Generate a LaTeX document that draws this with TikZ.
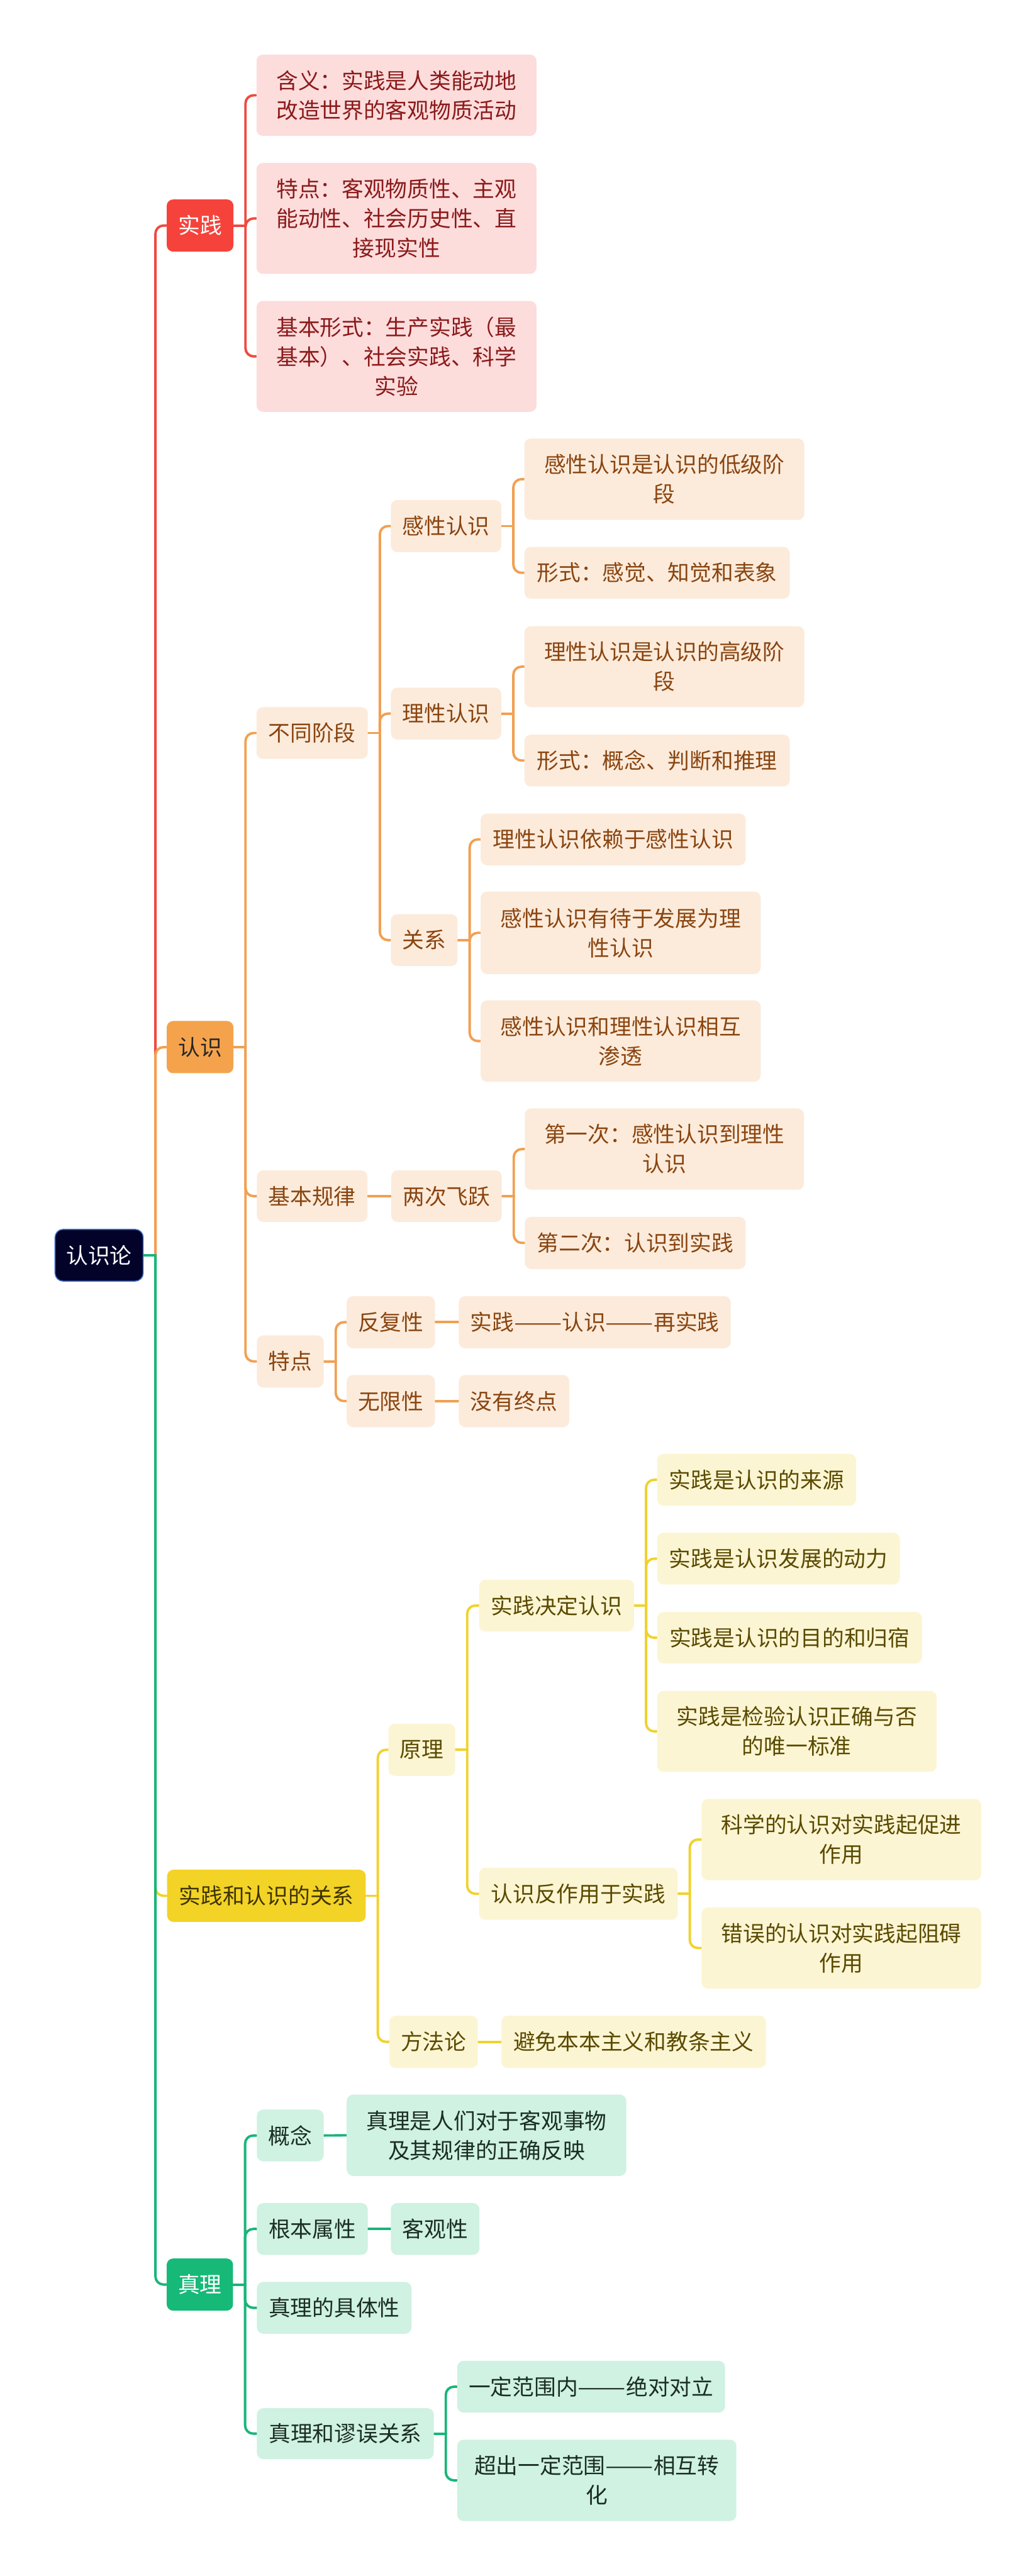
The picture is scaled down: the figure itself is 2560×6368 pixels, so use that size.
\documentclass[tikz,border=0pt]{standalone}
\usepackage{fontspec}
\setmainfont{Noto Sans CJK SC}
\usetikzlibrary{backgrounds}
\definecolor{rootF}{HTML}{03032A}
\definecolor{rootB}{HTML}{3D6FCF}
\definecolor{redM}{HTML}{F5433B}
\definecolor{redL}{HTML}{EE4A40}
\definecolor{redS}{HTML}{FDDCDC}
\definecolor{redT}{HTML}{8B1A1A}
\definecolor{orM}{HTML}{F4A34C}
\definecolor{orL}{HTML}{F2A052}
\definecolor{orS}{HTML}{FCEBDB}
\definecolor{orT}{HTML}{8A4510}
\definecolor{yeM}{HTML}{F2D326}
\definecolor{yeL}{HTML}{F0D22E}
\definecolor{yeS}{HTML}{FCF5D3}
\definecolor{yeT}{HTML}{5A4A00}
\definecolor{grM}{HTML}{16B978}
\definecolor{grL}{HTML}{19B57A}
\definecolor{grS}{HTML}{CFF2E2}
\definecolor{grT}{HTML}{1B2E22}
\newcommand\bx[7]{\node[#6, minimum width={(#4-#2)*0.25pt}, minimum height={(#5-#3)*0.25pt}] (#1) at ({(#2+#4)/2},{(#3+#5)/2}) {#7};}
\newcommand\cn[3]{%
  \draw[conn,#1] (#2.east) -- ++(29,0);
  \draw[conn,#1,rounded corners=5pt] ([xshift=7.25pt]#2.east) |- (#3.west);}
\newcommand\st[3]{\draw[conn,#1] (#2.east) -- (#3.west);}
\newcommand\dd{\resizebox{2.2em}{\height}{——}}
\begin{document}
\begin{tikzpicture}[x=0.25pt,y=-0.25pt,
  box/.style={rounded corners=4pt, inner sep=0pt, align=center, font=\fontsize{13.5pt}{18.25pt}\selectfont},
  rootbox/.style={box, fill=rootF, draw=rootB, line width=0.6pt, text=white, rounded corners=5pt},
  redmain/.style={box, fill=redM, text=white},
  redsub/.style={box, fill=redS, text=redT},
  ormain/.style={box, fill=orM, text=black!85},
  orsub/.style={box, fill=orS, text=orT},
  yemain/.style={box, fill=yeM, text=yeT!70!black},
  yesub/.style={box, fill=yeS, text=yeT},
  grmain/.style={box, fill=grM, text=white},
  grsub/.style={box, fill=grS, text=grT},
  conn/.style={line width=1.5pt, line cap=round},
  rc/.style={draw=redL}, oc/.style={draw=orL}, yc/.style={draw=yeL}, gc/.style={draw=grL}
]
\useasboundingbox (0,0) rectangle (2560,6368);
\begin{pgfonlayer}{background}
\fill[white] (0,0) rectangle (2560,6368);
\end{pgfonlayer}

\bx{root}{136}{3039}{354}{3167}{rootbox}{认识论}

% 实践
\bx{sj}{412}{493}{577}{622}{redmain}{实践}
\bx{sja}{634}{135}{1326}{336}{redsub}{含义：实践是人类能动地\\改造世界的客观物质活动}
\bx{sjb}{634}{403}{1326}{677}{redsub}{特点：客观物质性、主观\\能动性、社会历史性、直\\接现实性}
\bx{sjc}{634}{744}{1326}{1018}{redsub}{基本形式：生产实践（最\\基本）、社会实践、科学\\实验}

% 认识
\bx{rs}{412}{2524}{577}{2653}{ormain}{认识}
\bx{bt}{634}{1748}{909}{1876}{orsub}{不同阶段}
\bx{gx}{966}{1236}{1239}{1365}{orsub}{感性认识}
\bx{gxa}{1296}{1084}{1988}{1285}{orsub}{感性认识是认识的低级阶\\段}
\bx{gxb}{1296}{1352}{1952}{1480}{orsub}{形式：感觉、知觉和表象}
\bx{lx}{966}{1700}{1239}{1828}{orsub}{理性认识}
\bx{lxa}{1296}{1548}{1988}{1748}{orsub}{理性认识是认识的高级阶\\段}
\bx{lxb}{1296}{1816}{1952}{1944}{orsub}{形式：概念、判断和推理}
\bx{gxi}{966}{2260}{1131}{2388}{orsub}{关系}
\bx{gxia}{1188}{2011}{1843}{2139}{orsub}{理性认识依赖于感性认识}
\bx{gxib}{1188}{2204}{1880}{2408}{orsub}{感性认识有待于发展为理\\性认识}
\bx{gxic}{1188}{2473}{1880}{2674}{orsub}{感性认识和理性认识相互\\渗透}
\bx{jb}{635}{2893}{908}{3021}{orsub}{基本规律}
\bx{lc}{967}{2893}{1240}{3021}{orsub}{两次飞跃}
\bx{lca}{1297}{2740}{1987}{2941}{orsub}{第一次：感性认识到理性\\认识}
\bx{lcb}{1297}{3008}{1843}{3137}{orsub}{第二次：认识到实践}
\bx{td}{635}{3301}{800}{3430}{orsub}{特点}
\bx{ff}{857}{3204}{1075}{3333}{orsub}{反复性}
\bx{ffa}{1134}{3204}{1806}{3333}{orsub}{实践\dd 认识\dd 再实践}
\bx{wx}{857}{3399}{1075}{3528}{orsub}{无限性}
\bx{wxa}{1134}{3399}{1407}{3528}{orsub}{没有终点}

% 实践和认识的关系
\bx{gs}{413}{4622}{904}{4751}{yemain}{实践和认识的关系}
\bx{yl}{960}{4261}{1125}{4390}{yesub}{原理}
\bx{jd}{1184}{3905}{1567}{4033}{yesub}{实践决定认识}
\bx{jda}{1624}{3594}{2116}{3722}{yesub}{实践是认识的来源}
\bx{jdb}{1624}{3789}{2224}{3917}{yesub}{实践是认识发展的动力}
\bx{jdc}{1624}{3985}{2279}{4112}{yesub}{实践是认识的目的和归宿}
\bx{jdd}{1624}{4180}{2315}{4380}{yesub}{实践是检验认识正确与否\\的唯一标准}
\bx{fz}{1184}{4617}{1675}{4746}{yesub}{认识反作用于实践}
\bx{fza}{1734}{4447}{2425}{4648}{yesub}{科学的认识对实践起促进\\作用}
\bx{fzb}{1734}{4715}{2425}{4916}{yesub}{错误的认识对实践起阻碍\\作用}
\bx{fl}{962}{4983}{1181}{5112}{yesub}{方法论}
\bx{fla}{1239}{4983}{1893}{5112}{yesub}{避免本本主义和教条主义}

% 真理
\bx{zl}{412}{5583}{576}{5712}{grmain}{真理}
\bx{gn}{635}{5215}{800}{5343}{grsub}{概念}
\bx{gna}{857}{5178}{1548}{5379}{grsub}{真理是人们对于客观事物\\及其规律的正确反映}
\bx{gb}{635}{5446}{909}{5574}{grsub}{根本属性}
\bx{kg}{966}{5446}{1185}{5574}{grsub}{客观性}
\bx{jt}{635}{5641}{1017}{5769}{grsub}{真理的具体性}
\bx{my}{635}{5953}{1072}{6079}{grsub}{真理和谬误关系}
\bx{mya}{1130}{5836}{1792}{5964}{grsub}{一定范围内\dd 绝对对立}
\bx{myb}{1130}{6031}{1820}{6232}{grsub}{超出一定范围\dd 相互转\\化}

\begin{pgfonlayer}{background}
% red
\cn{rc}{root}{sj}
\cn{rc}{sj}{sja}\cn{rc}{sj}{sjb}\cn{rc}{sj}{sjc}
% orange
\cn{oc}{root}{rs}
\cn{oc}{rs}{bt}\cn{oc}{rs}{jb}\cn{oc}{rs}{td}
\cn{oc}{bt}{gx}\cn{oc}{bt}{lx}\cn{oc}{bt}{gxi}
\cn{oc}{gx}{gxa}\cn{oc}{gx}{gxb}
\cn{oc}{lx}{lxa}\cn{oc}{lx}{lxb}
\cn{oc}{gxi}{gxia}\cn{oc}{gxi}{gxib}\cn{oc}{gxi}{gxic}
\st{oc}{jb}{lc}
\cn{oc}{lc}{lca}\cn{oc}{lc}{lcb}
\cn{oc}{td}{ff}\cn{oc}{td}{wx}
\st{oc}{ff}{ffa}\st{oc}{wx}{wxa}
% yellow
\cn{yc}{root}{gs}
\cn{yc}{gs}{yl}\cn{yc}{gs}{fl}
\cn{yc}{yl}{jd}\cn{yc}{yl}{fz}
\cn{yc}{jd}{jda}\cn{yc}{jd}{jdb}\cn{yc}{jd}{jdc}\cn{yc}{jd}{jdd}
\cn{yc}{fz}{fza}\cn{yc}{fz}{fzb}
\st{yc}{fl}{fla}
% green
\cn{gc}{root}{zl}
\cn{gc}{zl}{gn}\cn{gc}{zl}{gb}\cn{gc}{zl}{jt}\cn{gc}{zl}{my}
\st{gc}{gn}{gna}\st{gc}{gb}{kg}
\cn{gc}{my}{mya}\cn{gc}{my}{myb}
\end{pgfonlayer}
\end{tikzpicture}
\end{document}
